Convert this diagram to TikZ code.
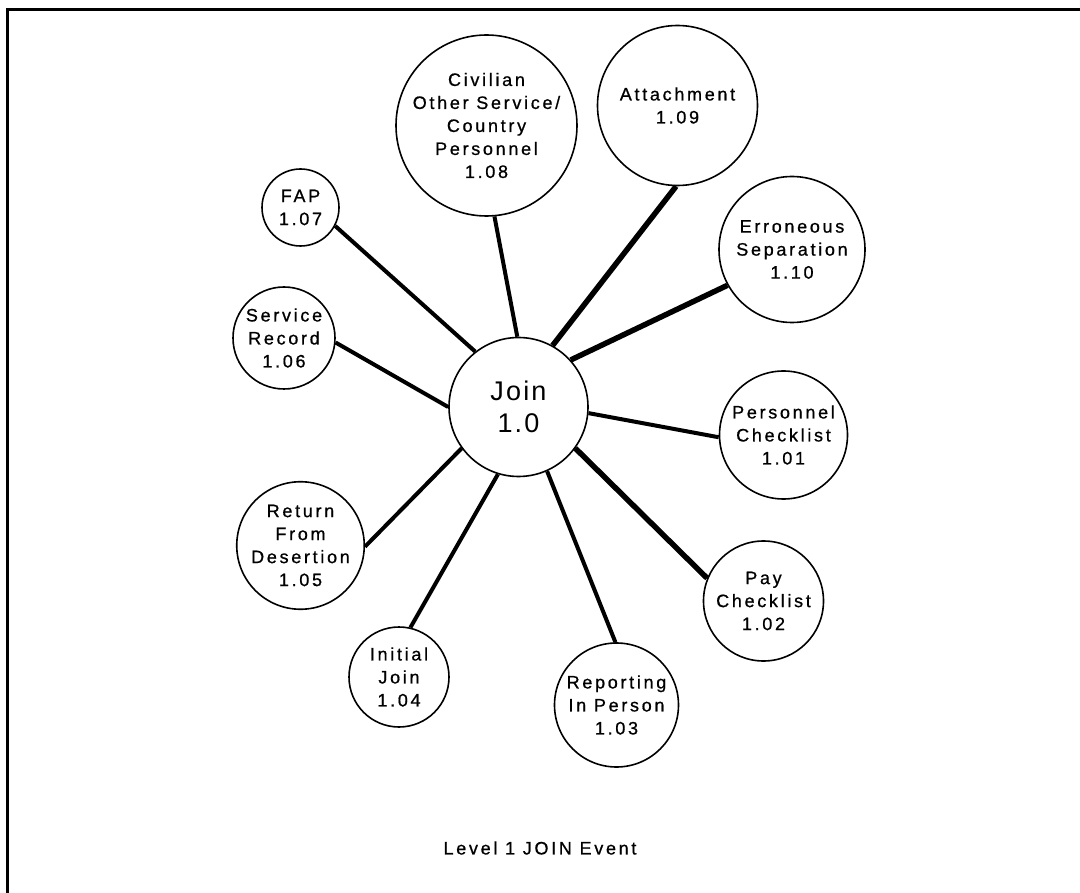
\documentclass[tikz,border=0pt]{standalone}
\usepackage{fontspec}
\setmainfont{Liberation Sans}
\newfontfamily\lblfont[LetterSpace=15,FakeBold=0.8]{Liberation Sans}
\newfontfamily\joinfont[LetterSpace=8]{Liberation Sans}
\begin{document}
\begin{tikzpicture}[x=1pt,y=-1pt,
  bub/.style={circle, draw, line width=1.6pt, inner sep=0pt, align=center,
              font=\lblfont\fontsize{18}{23}\selectfont},
  link/.style={line width=4pt},
  thicklink/.style={line width=5.5pt},
  frameline/.style={line width=3pt}]
\useasboundingbox (0,0) rectangle (1080,893);
\coordinate (fb) at (7,893);
\coordinate (fc) at (7,10);
\coordinate (fr) at (1080,10);
\draw[frameline] (fb) -- (fc) -- (fr);

\node[bub, minimum size=139pt, font=\joinfont\fontsize{27}{32}\selectfont] (join) at (518.5,407) {Join\\1.0};
\node[bub, minimum size=181pt] (n108) at (486.5,125.5) {Civilian\\Other Service/\\Country\\Personnel\\1.08};
\node[bub, minimum size=160pt] (n109) at (677.5,105.5) {Attachment\\1.09};
\node[bub, minimum size=146pt] (n110) at (792,249.5) {Erroneous\\Separation\\1.10};
\node[bub, minimum size=128pt] (n101) at (783.5,435) {Personnel\\Checklist\\1.01};
\node[bub, minimum size=120pt] (n102) at (763.5,601) {Pay\\Checklist\\1.02};
\node[bub, minimum size=124pt] (n103) at (616.5,705) {Reporting\\In Person\\1.03};
\node[bub, minimum size=100pt] (n104) at (399,677) {Initial\\Join\\1.04};
\node[bub, minimum size=111pt] (n105) at (300.5,545.5) {Return\\From\\Desertion\\1.05};
\node[bub, minimum size=102pt] (n106) at (284,338) {Service\\Record\\1.06};
\node[bub, minimum size=77pt] (n107) at (300.5,207.5) {FAP\\1.07};

\draw[link] (n107.-28.7) -- (join.128.9);
\draw[link] (n106.-5.6) -- (join.180);
\draw[link] (n108.-85.9) -- (join.91);
\draw[thicklink] (n109.-91.8) -- (join.61.6);
\draw[thicklink] (n110.209.8) -- (join.42.3);
\draw[link] (n101.182.7) -- (join.-5);
\draw[thicklink] (n102.158.7) -- (join.-36.3);
\draw[link] (n103.91.4) -- (join.-66.6);
\draw[link] (n104.77.3) -- (join.253.2);
\draw[link] (n105.-1.5) -- (join.216.3);

\node[font=\lblfont\fontsize{18}{22}\selectfont] (title) at (540,848) {Level 1 JOIN Event};
\end{tikzpicture}
\end{document}
